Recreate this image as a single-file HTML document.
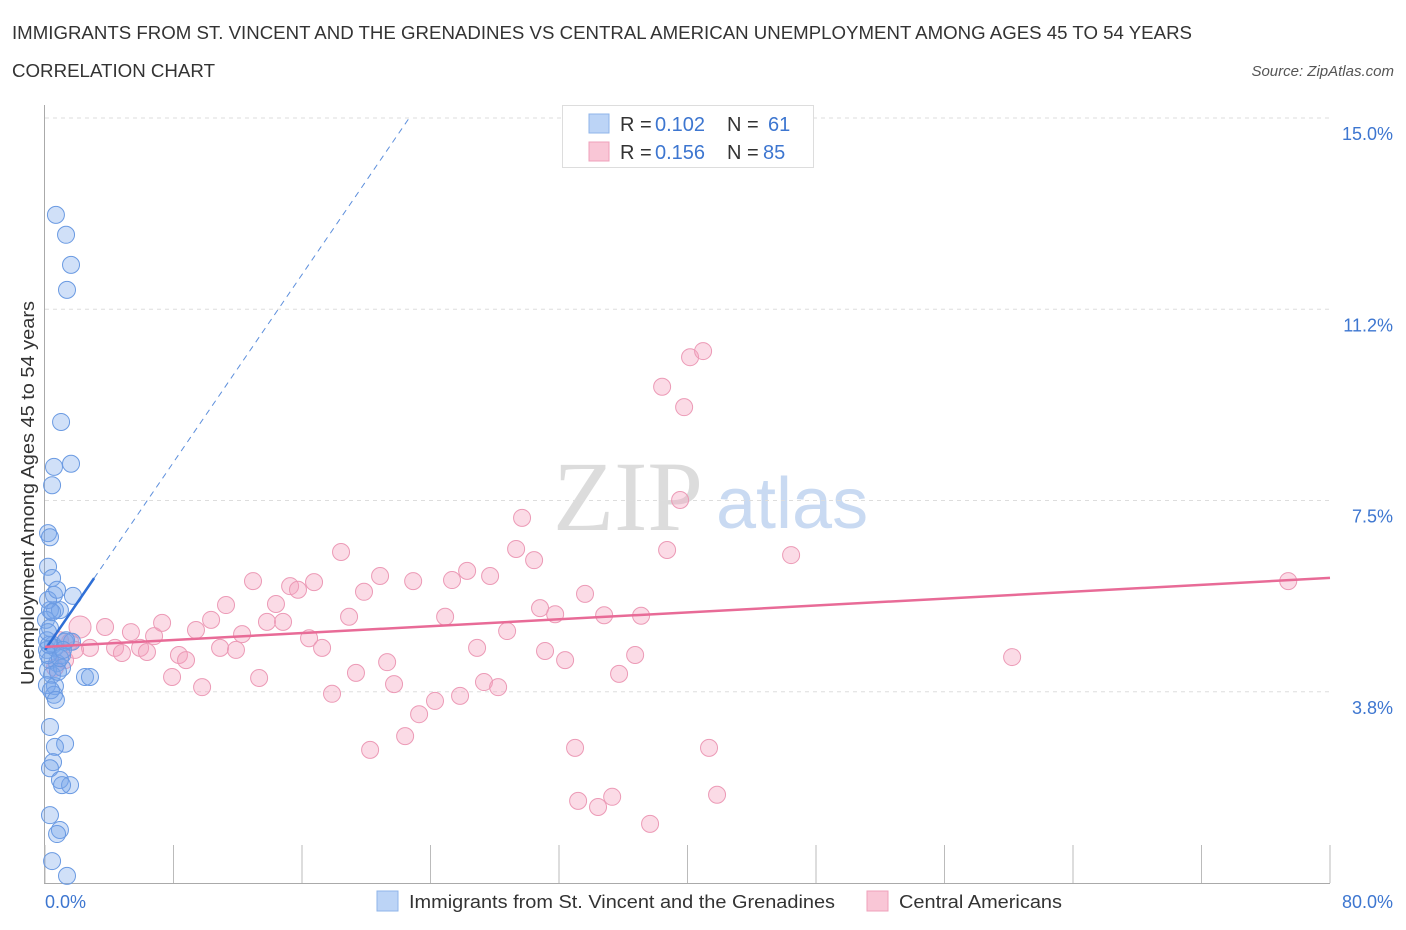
<!DOCTYPE html>
<html><head><meta charset="utf-8"><style>
body{margin:0;background:#fff;font-family:"Liberation Sans",sans-serif;}
#wrap{position:relative;width:1406px;height:930px;overflow:hidden;}
</style></head><body>
<div id="wrap">
<svg id="svg" width="1406" height="930" xmlns="http://www.w3.org/2000/svg">
<text x="12" y="39" font-size="18" fill="#333" textLength="1180" lengthAdjust="spacingAndGlyphs">IMMIGRANTS FROM ST. VINCENT AND THE GRENADINES VS CENTRAL AMERICAN UNEMPLOYMENT AMONG AGES 45 TO 54 YEARS</text>
<text x="12" y="77" font-size="18" fill="#333" textLength="203" lengthAdjust="spacingAndGlyphs">CORRELATION CHART</text>
<text x="1394" y="76" font-size="15" fill="#555" font-style="italic" text-anchor="end">Source: ZipAtlas.com</text>
<g>
<text x="553" y="530" font-size="100" fill="#dcdcdc" font-family="Liberation Serif,serif">ZIP</text>
<text x="716" y="528" font-size="72" fill="#c9daf2">atlas</text>
</g>
<g id="grid"></g>
<g id="axes"></g>
<g id="pts"></g>
<g id="trend"></g>
<text transform="translate(34,493) rotate(-90)" font-size="18" fill="#333" text-anchor="middle" textLength="384" lengthAdjust="spacingAndGlyphs">Unemployment Among Ages 45 to 54 years</text>
<g>
<rect x="562.5" y="105.5" width="251" height="62" fill="#fff" stroke="#ddd"/>
<rect x="589" y="114" width="20" height="19" fill="#bcd4f6" stroke="#8fb4ea"/>
<rect x="589" y="142" width="20" height="19" fill="#f9c6d6" stroke="#efa0bb"/>
<g font-size="20">
<text x="620" y="131" fill="#333">R =</text><text x="655" y="131" fill="#3d76d0">0.102</text>
<text x="727" y="131" fill="#333">N =</text><text x="768" y="131" fill="#3d76d0">61</text>
</g>
<g font-size="20">
<text x="620" y="159" fill="#333">R =</text><text x="655" y="159" fill="#3d76d0">0.156</text>
<text x="727" y="159" fill="#333">N =</text><text x="763" y="159" fill="#3d76d0">85</text>
</g>
</g>
<g>
<rect x="377" y="891" width="21" height="20" fill="#bcd4f6" stroke="#8fb4ea"/>
<text x="409" y="908" font-size="18" fill="#333" textLength="426" lengthAdjust="spacingAndGlyphs">Immigrants from St. Vincent and the Grenadines</text>
<rect x="867" y="891" width="21" height="20" fill="#f9c6d6" stroke="#efa0bb"/>
<text x="899" y="908" font-size="18" fill="#333" textLength="163" lengthAdjust="spacingAndGlyphs">Central Americans</text>
</g>
</svg>
</div>
<script>
const yTicks=[3.75,7.5,11.25,15];
const yTickLabels=["3.8%","7.5%","11.2%","15.0%"];
const xTicks=[0,8,16,24,32,40,48,56,64,72,80];
const blueX=[0.68,1.31,1.62,1.37,1.00,1.62,0.56,0.44,0.19,0.31,0.19,0.44,0.56,1.74,0.31,0.62,0.93,0.06,0.31,0.12,0.50,0.12,0.62,1.06,0.31,0.75,1.25,1.68,0.19,0.44,1.06,2.49,2.80,0.12,0.62,0.56,0.31,1.25,0.62,0.50,0.31,0.93,1.56,1.06,0.31,0.93,0.75,0.44,1.37,0.19,0.75,0.19,0.81,1.31,0.25,0.37,0.93,1.12,0.19,0.44,0.68];
const blueY=[13.10,12.71,12.12,11.63,9.04,8.22,8.16,7.80,6.86,6.78,6.20,5.98,5.65,5.63,5.35,5.35,5.35,5.16,5.00,4.76,4.67,4.57,4.61,4.47,4.37,4.31,4.73,4.73,4.18,4.08,4.22,4.04,4.04,3.88,3.86,3.69,3.06,2.73,2.67,2.37,2.25,2.02,1.92,1.92,1.33,1.04,0.96,0.43,0.14,5.55,5.75,4.47,4.14,4.76,4.67,3.78,4.41,4.57,4.92,5.31,3.59];
const pinkX=[2.18,3.74,5.35,6.79,7.29,7.91,8.34,8.78,9.40,9.78,10.34,10.90,11.27,11.89,12.27,12.95,13.33,13.82,14.38,14.82,15.26,15.75,16.44,16.75,17.25,17.87,18.43,18.93,19.36,19.86,20.24,20.86,21.30,21.73,22.42,22.92,23.29,24.28,24.91,25.34,25.84,26.28,26.90,27.33,27.71,28.21,28.77,29.33,29.70,30.45,30.82,31.13,31.76,32.38,33.00,33.19,33.62,34.43,34.81,35.31,35.74,36.74,37.11,37.67,38.42,38.73,39.54,39.79,40.16,40.97,41.34,41.84,46.45,60.21,77.40,0.93,1.56,2.80,4.36,5.92,6.35,4.79,1.25,0.62,1.87];
const pinkY=[5.02,5.02,4.92,4.84,5.10,4.04,4.47,4.37,4.96,3.84,5.16,4.61,5.45,4.57,4.88,5.92,4.02,5.12,5.47,5.12,5.82,5.75,4.80,5.90,4.61,3.71,6.49,5.22,4.12,5.71,2.61,6.02,4.33,3.90,2.88,5.92,3.31,3.57,5.22,5.94,3.67,6.12,4.61,3.94,6.02,3.84,4.94,6.55,7.16,6.33,5.39,4.55,5.27,4.37,2.65,1.61,5.67,1.49,5.25,1.69,4.10,4.47,5.24,1.16,9.73,6.53,7.51,9.33,10.31,10.43,2.65,1.73,6.43,4.43,5.92,4.76,4.73,4.61,4.61,4.61,4.53,4.51,4.37,4.22,4.57];
const blueTrend=[4.57,0.46];   // intercept, slope
const pinkTrend=[4.63,0.0169];
const NS="http://www.w3.org/2000/svg";
const X=v=>45+v*(1285/80), Y=v=>883-v*51.0;
function mk(tag,attrs,parent){const e=document.createElementNS(NS,tag);for(const k in attrs)e.setAttribute(k,attrs[k]);document.getElementById(parent).appendChild(e);return e;}
yTicks.forEach((t,i)=>{
 const l=mk('line',{x1:45,x2:1330,y1:Y(t),y2:Y(t),stroke:'#ddd','stroke-dasharray':'4,4'},'grid');
 
 
 const tx=mk('text',{x:1393,y:Y(t)+22,'font-size':18,fill:'#3d76d0','text-anchor':'end'},'grid');
 tx.textContent=yTickLabels[i];
 
 
});
const ya=mk('line',{x1:44.5,x2:44.5,y1:105,y2:883,stroke:'#aaa'},'axes');


const xa=mk('line',{x1:44,x2:1330,y1:883.5,y2:883.5,stroke:'#aaa'},'axes');


xTicks.forEach(t=>{
 const l=mk('line',{x1:X(t),x2:X(t),y1:845,y2:883,stroke:'#bbb'},'axes');
 
 
});
const xl0=mk('text',{x:45,y:908,'font-size':18,fill:'#3d76d0'},'axes');xl0.textContent='0.0%';


const xl1=mk('text',{x:1393,y:908,'font-size':18,fill:'#3d76d0','text-anchor':'end'},'axes');xl1.textContent='80.0%';


pinkX.forEach((x,i)=>{
 const c=mk('circle',{cx:X(x),cy:Y(pinkY[i]),r:i===0?11:8.5,fill:'rgba(244,160,190,0.38)',stroke:'#ec9ab6','stroke-width':1},'pts');
 
 
});
blueX.forEach((x,i)=>{
 const c=mk('circle',{cx:X(x),cy:Y(blueY[i]),r:8.5,fill:'rgba(120,165,235,0.35)',stroke:'#6a9ae2','stroke-width':1},'pts');
 
 
});
const bx1=3.06,bx2=(15-blueTrend[0])/blueTrend[1];
const b1=mk('line',{x1:X(0),y1:Y(blueTrend[0]),x2:X(bx1),y2:Y(blueTrend[0]+blueTrend[1]*bx1),stroke:'#2f6fd6','stroke-width':2.5},'trend');


const b2=mk('line',{x1:X(bx1),y1:Y(blueTrend[0]+blueTrend[1]*bx1),x2:X(bx2),y2:Y(15),stroke:'#5d8fdc','stroke-width':1,'stroke-dasharray':'6,5'},'trend');


const p1=mk('line',{x1:X(0),y1:Y(pinkTrend[0]),x2:X(80),y2:Y(pinkTrend[0]+pinkTrend[1]*80),stroke:'#e86b97','stroke-width':2.5},'trend');


</script>
</body></html>
